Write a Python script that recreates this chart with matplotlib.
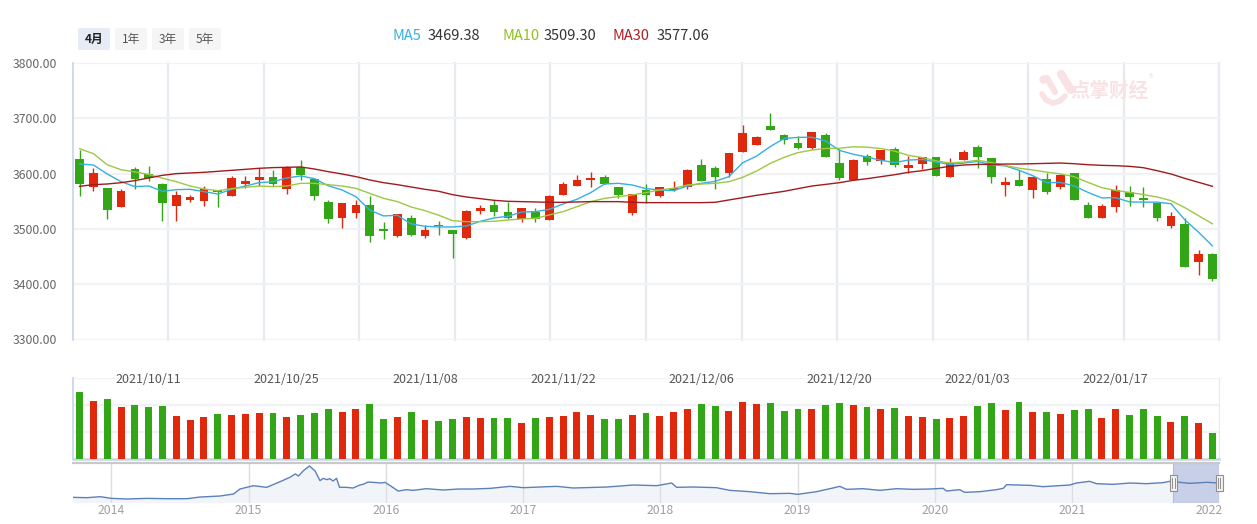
import matplotlib
matplotlib.use('Agg')
import matplotlib.pyplot as plt
import matplotlib.dates as mdates
import matplotlib.transforms as mtransforms
from matplotlib.patches import FancyBboxPatch, Rectangle
import numpy as np
import pandas as pd

plt.rcParams['font.family'] = ['Noto Sans CJK SC', 'DejaVu Sans']

# daily candles (83 trading days shown in the "4月" window)
opens = [3626, 3576, 3574, 3540, 3608, 3599, 3581, 3542, 3553, 3551,
         3570, 3560, 3582, 3589, 3594, 3573, 3612, 3590, 3549, 3519,
         3529, 3543, 3500, 3487, 3520, 3488, 3507, 3498, 3484, 3532,
         3543, 3531, 3518, 3531, 3516, 3562, 3578, 3589, 3594, 3576,
         3528, 3570, 3560, 3570, 3575, 3616, 3610, 3601, 3639, 3652,
         3686, 3670, 3655, 3646, 3670, 3619, 3588, 3632, 3623, 3645,
         3610, 3617, 3630, 3594, 3625, 3648, 3628, 3580, 3588, 3571,
         3590, 3576, 3601, 3543, 3520, 3540, 3567, 3556, 3547, 3506,
         3509, 3441, 3455]
highs = [3642, 3610, 3574, 3572, 3612, 3614, 3583, 3569, 3561, 3578,
         3570, 3596, 3596, 3610, 3607, 3614, 3625, 3592, 3552, 3547,
         3552, 3560, 3513, 3527, 3525, 3507, 3514, 3498, 3534, 3543,
         3552, 3549, 3538, 3538, 3561, 3585, 3598, 3603, 3598, 3576,
         3563, 3581, 3576, 3587, 3608, 3626, 3614, 3638, 3688, 3668,
         3710, 3672, 3668, 3675, 3673, 3645, 3626, 3635, 3643, 3648,
         3632, 3630, 3630, 3628, 3643, 3652, 3628, 3594, 3607, 3594,
         3601, 3599, 3601, 3549, 3545, 3579, 3578, 3576, 3547, 3531,
         3520, 3462, 3457]
lows = [3560, 3569, 3518, 3540, 3573, 3587, 3515, 3515, 3548, 3542,
        3540, 3560, 3574, 3578, 3578, 3564, 3589, 3553, 3510, 3502,
        3519, 3477, 3481, 3485, 3488, 3484, 3489, 3447, 3482, 3527,
        3523, 3518, 3513, 3513, 3516, 3561, 3578, 3576, 3581, 3555,
        3526, 3546, 3558, 3569, 3573, 3587, 3573, 3593, 3639, 3652,
        3678, 3654, 3645, 3645, 3630, 3588, 3588, 3616, 3617, 3612,
        3601, 3608, 3595, 3594, 3624, 3610, 3583, 3560, 3578, 3555,
        3564, 3573, 3552, 3520, 3520, 3531, 3542, 3540, 3515, 3501,
        3431, 3417, 3405]
closes = [3582, 3601, 3534, 3569, 3590, 3592, 3546, 3561, 3558, 3572,
          3567, 3592, 3587, 3594, 3582, 3612, 3598, 3560, 3517, 3547,
          3543, 3487, 3497, 3527, 3489, 3498, 3505, 3491, 3532, 3538,
          3531, 3520, 3538, 3518, 3560, 3581, 3589, 3592, 3582, 3562,
          3563, 3562, 3576, 3574, 3607, 3587, 3593, 3637, 3673, 3666,
          3679, 3660, 3646, 3675, 3630, 3592, 3625, 3621, 3643, 3616,
          3616, 3630, 3596, 3619, 3639, 3630, 3594, 3585, 3578, 3594,
          3566, 3598, 3553, 3520, 3541, 3570, 3557, 3552, 3520, 3523,
          3432, 3455, 3410]
volumes = [498, 431, 446, 386, 401, 386, 393, 319, 289, 311,
           334, 326, 334, 341, 341, 311, 326, 341, 371, 349,
           371, 408, 296, 311, 349, 289, 281, 296, 311, 304,
           304, 304, 266, 304, 311, 319, 349, 326, 296, 296,
           326, 341, 319, 349, 371, 408, 393, 356, 423, 408,
           416, 356, 371, 371, 401, 416, 401, 386, 371, 378,
           319, 311, 296, 304, 319, 393, 416, 364, 423, 349,
           349, 334, 364, 371, 304, 371, 326, 371, 319, 274,
           319, 266, 192]

ma5 = [3617.4, 3615.6, 3599.3, 3585.4, 3576.5, 3577.6, 3568.0, 3571.0, 3571.6, 3567.4,
       3563.1, 3571.6, 3577.6, 3583.6, 3585.4, 3592.1, 3595.7, 3590.9, 3578.0, 3570.4,
       3558.3, 3534.0, 3523.4, 3524.6, 3509.0, 3504.7, 3503.5, 3503.5, 3505.3, 3513.7,
       3519.8, 3522.8, 3530.6, 3531.2, 3535.4, 3545.1, 3553.5, 3565.6, 3581.2, 3582.4,
       3579.4, 3572.8, 3570.4, 3569.2, 3577.6, 3582.4, 3586.0, 3594.5, 3619.6, 3631.6,
       3649.0, 3663.5, 3665.5, 3665.8, 3659.0, 3642.0, 3635.0, 3630.0, 3624.0, 3620.0,
       3624.5, 3625.5, 3621.0, 3616.5, 3619.0, 3622.0, 3616.0, 3614.0, 3606.0, 3596.2,
       3583.6, 3584.0, 3577.6, 3566.0, 3556.0, 3556.5, 3548.8, 3548.4, 3548.4, 3545.5,
       3516.5, 3494.0, 3469.38]
ma10 = [3645.0, 3636.0, 3616.0, 3607.0, 3603.0, 3598.5, 3591.5, 3585.4, 3577.6, 3572.2,
        3569.2, 3572.8, 3575.2, 3577.6, 3576.4, 3577.6, 3582.4, 3582.4, 3580.0, 3577.6,
        3573.4, 3564.3, 3555.3, 3549.3, 3539.6, 3533.0, 3524.6, 3514.9, 3513.1, 3513.1,
        3513.7, 3516.1, 3517.9, 3519.1, 3525.2, 3531.2, 3540.2, 3549.3, 3555.3, 3558.3,
        3561.3, 3565.6, 3570.4, 3573.4, 3579.4, 3581.2, 3582.4, 3585.4, 3593.3, 3604.5,
        3618.6, 3629.4, 3637.9, 3642.5, 3645.5, 3645.8, 3648.5, 3647.8, 3645.3, 3640.6,
        3633.0, 3629.0, 3623.0, 3619.2, 3620.8, 3624.0, 3620.0, 3614.5, 3609.8, 3606.6,
        3602.6, 3599.5, 3594.4, 3584.0, 3574.6, 3569.5, 3565.9, 3562.1, 3557.7, 3551.2,
        3538.5, 3523.8, 3509.30]
ma30 = [3577.0, 3580.0, 3581.2, 3583.6, 3587.3, 3592.1, 3596.9, 3599.9, 3601.1, 3602.3,
        3604.1, 3605.9, 3607.7, 3609.6, 3610.8, 3611.4, 3612.0, 3608.3, 3603.5, 3599.3,
        3594.5, 3588.5, 3583.6, 3580.0, 3575.8, 3571.6, 3568.0, 3561.9, 3557.7, 3554.7,
        3551.7, 3549.9, 3549.3, 3548.7, 3548.1, 3548.1, 3548.7, 3549.3, 3549.3, 3549.3,
        3548.1, 3547.5, 3547.5, 3547.5, 3547.5, 3547.5, 3548.1, 3552.3, 3556.5, 3560.7,
        3564.3, 3568.0, 3572.8, 3577.5, 3580.5, 3583.6, 3587.8, 3590.8, 3594.4, 3598.0,
        3602.3, 3605.3, 3609.5, 3613.1, 3615.5, 3616.7, 3616.7, 3617.3, 3617.3, 3617.9,
        3618.5, 3619.1, 3617.9, 3616.1, 3614.9, 3614.3, 3613.1, 3610.7, 3605.3, 3599.3,
        3591.4, 3584.2, 3577.06]

date_tick_idx = [5, 15, 25, 35, 45, 55, 65, 75]
date_tick_labels = ['2021/10/11', '2021/10/25', '2021/11/08', '2021/11/22',
                    '2021/12/06', '2021/12/20', '2022/01/03', '2022/01/17']
price_ticks = [3300, 3400, 3500, 3600, 3700, 3800]
range_buttons = ['4月', '1年', '3年', '5年']

# long history for the navigator strip
nav_dates = ['2013-09-20', '2013-10-28', '2013-12-02', '2014-01-01', '2014-02-11',
             '2014-04-05', '2014-05-28', '2014-07-21', '2014-08-25', '2014-10-17',
             '2014-11-22', '2014-12-09', '2015-01-14', '2015-02-18', '2015-03-26',
             '2015-04-21', '2015-05-05', '2015-05-14', '2015-05-27', '2015-06-12',
             '2015-06-27', '2015-07-10', '2015-07-19', '2015-07-28', '2015-08-05',
             '2015-08-14', '2015-08-23', '2015-08-31', '2015-09-18', '2015-10-06',
             '2015-10-24', '2015-11-02', '2015-11-15', '2015-12-21', '2015-12-30',
             '2016-01-17', '2016-02-03', '2016-02-25', '2016-03-14', '2016-04-18',
             '2016-06-02', '2016-07-12', '2016-08-21', '2016-10-05', '2016-11-27',
             '2017-01-01', '2017-03-31', '2017-05-14', '2017-08-11', '2017-10-21',
             '2017-12-22', '2018-01-31', '2018-02-13', '2018-03-29', '2018-05-30',
             '2018-07-04', '2018-08-27', '2018-10-19', '2018-12-11', '2019-01-01',
             '2019-02-20', '2019-04-05', '2019-04-23', '2019-05-11', '2019-06-24',
             '2019-08-08', '2019-09-21', '2019-11-04', '2019-12-18', '2020-01-23',
             '2020-02-01', '2020-03-07', '2020-03-21', '2020-04-30', '2020-06-13',
             '2020-07-01', '2020-07-10', '2020-09-10', '2020-10-15', '2020-12-25',
             '2021-01-12', '2021-02-16', '2021-03-06', '2021-04-19', '2021-06-03',
             '2021-07-17', '2021-08-30', '2021-09-17', '2021-11-09', '2021-12-24',
             '2022-01-27']
nav_values = [2149, 2117, 2213, 2052, 1988,
              2052, 2020, 2020, 2181, 2277,
              2470, 2951, 3272, 3112, 3657,
              4075, 4396, 4203, 4717, 5166,
              4685, 3754, 3978, 3850, 3946,
              3722, 3978, 3112, 3112, 3047,
              3336, 3400, 3625, 3529, 3593,
              3176, 2758, 2887, 2823, 2983,
              2855, 2950, 2951, 3015, 3208,
              3079, 3208, 3047, 3144, 3336,
              3272, 3529, 3112, 3144, 3079,
              2823, 2694, 2502, 2534, 2438,
              2694, 3047, 3208, 2919, 2983,
              2823, 2983, 2919, 2951, 3015,
              2758, 2887, 2630, 2694, 2887,
              3015, 3368, 3304, 3176, 3336,
              3529, 3689, 3465, 3400, 3529,
              3465, 3561, 3689, 3497, 3593,
              3529]
window_start, window_end = '2021-09-27', '2022-01-27'

RED = '#e0280c'
GREEN = '#33a617'
C_MA5, C_MA10, C_MA30 = '#35b0e0', '#9cc843', '#a11b1e'
W, H = 1257, 524

fig = plt.figure(figsize=(12.57, 5.24), dpi=100)


def px_axes(left, top, right, bottom, **kw):
    return fig.add_axes([left / W, 1 - bottom / H, (right - left) / W, (bottom - top) / H], **kw)


ax = px_axes(72.7, 63, 1219.3, 339.5)
axv = px_axes(72.7, 378.3, 1219.3, 458.7)
axn = px_axes(72.7, 463.3, 1219.3, 502.7)

n = len(opens)
x = np.arange(n)
o = np.array(opens, float)
c = np.array(closes, float)
colors = np.where(c >= o, RED, GREEN)

# --- candles ---
ax.vlines(x, lows, highs, colors=colors, lw=1.0, zorder=3)
ax.bar(x, np.maximum(np.abs(c - o), 1.5), bottom=np.minimum(o, c), width=0.63,
       color=colors, linewidth=0, zorder=4)
ax.plot(x, ma5, color=C_MA5, lw=1.0, zorder=5)
ax.plot(x, ma10, color=C_MA10, lw=1.0, zorder=5)
ax.plot(x, ma30, color=C_MA30, lw=1.0, zorder=5)

ax.set_xlim(-0.5, n - 0.5)
ax.set_ylim(price_ticks[0], price_ticks[-1])
ax.set_yticks(price_ticks)
ax.set_yticklabels(['%.2f' % p for p in price_ticks])
ax.set_xticks([])
ax.tick_params(axis='y', length=0, pad=11, labelsize=8.8, labelcolor='#666666')
ax.grid(axis='y', color='#f0f2f5', lw=1.6, zorder=0)
for k in range(1, 13):
    ax.axvline(-0.5 + n * k / 12, color='#e6eaf1', lw=1.6, zorder=0, clip_on=False)
for s in ['top', 'right', 'bottom']:
    ax.spines[s].set_visible(False)
ax.spines['left'].set_color('#c6d4e9')
ax.spines['left'].set_linewidth(1.2)

# --- volume ---
axv.bar(x, volumes, width=0.5, color=colors, linewidth=0, zorder=3)
axv.set_xlim(-0.5, n - 0.5)
axv.set_ylim(0, 600)
axv.set_yticks([200, 400, 600])
axv.set_xticks([])
axv.tick_params(axis='y', length=0, labelleft=False)
axv.grid(axis='y', color='#f0f2f5', lw=1.6, zorder=0)
axv.spines['top'].set_visible(False)
axv.spines['right'].set_color('#e6eaf0')
axv.spines['left'].set_color('#c6d4e9')
axv.spines['left'].set_linewidth(1.2)
axv.spines['bottom'].set_color('#c6d4e9')
axv.spines['bottom'].set_linewidth(1.8)
trans = mtransforms.blended_transform_factory(axv.transData, axv.transAxes)
for i, lab in zip(date_tick_idx, date_tick_labels):
    axv.text(i, 0.99, lab, transform=trans, ha='center', va='center',
             fontsize=9, color='#555555', zorder=5)

# --- navigator ---
nd = pd.to_datetime(nav_dates)
axn.fill_between(nd, nav_values, 1635, color='#f1f5f9', lw=0, zorder=1)
ws, we = pd.Timestamp(window_start), pd.Timestamp(window_end)
axn.axvspan(ws, we, facecolor='#c8d0e8', edgecolor='#b4bdd6', lw=0.8, zorder=2)
axn.plot(nd, nav_values, color='#5c80b8', lw=1.0, zorder=3)
axn.set_xlim(pd.Timestamp('2013-09-20'), pd.Timestamp('2022-01-27'))
axn.set_ylim(1635, 5423)
axn.set_yticks([])
axn.xaxis.set_major_locator(mdates.YearLocator())
axn.xaxis.set_major_formatter(mdates.DateFormatter('%Y'))
axn.tick_params(axis='x', length=0, pad=1, labelsize=8.8, labelcolor='#a0a0a0')
axn.grid(axis='x', color='#dedede', lw=1.0, zorder=0)
for s in ['left', 'right', 'bottom']:
    axn.spines[s].set_visible(False)
axn.spines['top'].set_color('#c9c9c9')
axn.spines['top'].set_linewidth(1.6)

# window handles
x0, x1 = axn.get_xlim()
days_per_px = (x1 - x0) / 1146.6
ntrans = mtransforms.blended_transform_factory(axn.transData, axn.transAxes)
for d in (ws, we):
    xd = mdates.date2num(d)
    hw = 7 * days_per_px
    axn.add_patch(Rectangle((xd - hw / 2, 0.29), hw, 0.42, transform=ntrans,
                            facecolor='#f2f2f2', edgecolor='#8f8f8f', lw=0.8,
                            zorder=6, clip_on=False))
    for dx in (-1.2, 1.2):
        axn.plot([xd + dx * days_per_px] * 2, [0.38, 0.62], transform=ntrans,
                 color='#8f8f8f', lw=0.7, zorder=7, clip_on=False)

# --- header: range buttons, MA legend, watermark ---
ov = fig.add_axes([0, 0, 1, 1], zorder=10)
ov.set_xlim(0, W)
ov.set_ylim(H, 0)
ov.axis('off')

for k, lab in enumerate(range_buttons):
    bx = 78 + 37 * k
    sel = k == 0
    ov.add_patch(FancyBboxPatch((bx, 28), 32, 22, boxstyle='round,pad=0,rounding_size=2',
                                facecolor='#e6ebf5' if sel else '#f5f5f5', edgecolor='none'))
    ov.text(bx + 16, 39.5, lab, ha='center', va='center', fontsize=8.5,
            color='#222222' if sel else '#555555', fontweight='bold' if sel else 'normal')

legend_items = [('MA5', ma5[-1], C_MA5, 393, 428),
                ('MA10', ma10[-1], '#8dc21f', 503, 544),
                ('MA30', ma30[-1], '#b01f24', 613, 657)]
for name, val, col, xn, xv in legend_items:
    ov.text(xn, 36, name, color=col, fontsize=10.5, ha='left', va='center')
    ov.text(xv, 36, '%.2f' % val, color='#333333', fontsize=10.5, ha='left', va='center')

pink = '#f8e2e4'
ov.plot([1043], [79], marker='o', ms=5, color=pink, zorder=1)
ov.plot([1047, 1055], [78, 92], lw=4.5, color=pink, solid_capstyle='round', zorder=1)
ov.plot([1061, 1071], [74, 90], lw=6, color=pink, solid_capstyle='round', zorder=1)
ov.plot([1042, 1046, 1053, 1060, 1065], [94, 100, 103, 101, 96], lw=4, color=pink,
        solid_capstyle='round', zorder=1)
ov.text(1109, 91, '点掌财经', ha='center', va='center', fontsize=14, color=pink,
        fontweight='bold', zorder=1)
ov.text(1151, 79, '®', ha='center', va='center', fontsize=7, color=pink, zorder=1)

fig.savefig('out.png', dpi=100)
